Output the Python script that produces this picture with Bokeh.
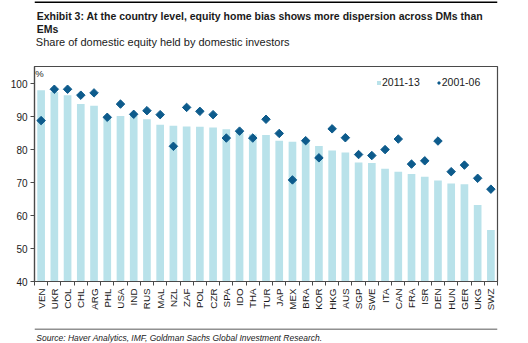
import math
from bokeh.plotting import figure
from bokeh.layouts import column
from bokeh.models import (ColumnDataSource, FixedTicker, Label, Span,
                          Range1d, Legend, LegendItem)
from bokeh.embed import file_html
from bokeh.resources import INLINE

countries = ["VEN", "UKR", "COL", "CHL", "ARG", "PHL", "USA", "IND", "RUS", "MAL",
             "NZL", "ZAF", "POL", "CZR", "SPA", "IDO", "THA", "TUR", "JAP", "MEX",
             "BRA", "KOR", "HKG", "AUS", "SGP", "SWE", "ITA", "CAN", "FRA", "ISR",
             "DEN", "HUN", "GER", "UKG", "SWZ"]
share_2011_13 = [98.0, 97.5, 96.5, 93.8, 93.3, 89.5, 90.2, 90.2, 89.2, 87.5,
                 87.2, 87.0, 86.9, 86.7, 86.2, 85.2, 84.6, 84.4, 82.7, 82.4,
                 82.6, 81.1, 79.7, 79.1, 76.1, 75.9, 74.2, 73.3, 72.6, 71.8,
                 70.6, 69.7, 69.5, 63.2, 55.6]
share_2001_06 = [88.8, 98.3, 98.3, 96.5, 97.2, 89.8, 93.8, 90.7, 91.8, 90.6,
                 81.0, 92.8, 91.6, 90.6, 83.5, 85.6, 83.5, 89.2, 84.9, 70.8,
                 82.7, 77.5, 86.3, 83.6, 78.5, 78.2, 80.0, 83.2, 75.6, 76.6,
                 82.6, 73.3, 75.3, 71.3, 68.0]
y_ticks = [40, 50, 60, 70, 80, 90, 100]
series_names = ["2011-13", "2001-06"]
title_lines = ["Exhibit 3: At the country level, equity home bias shows more dispersion across DMs than",
               "EMs"]
subtitle = "Share of domestic equity held by domestic investors"
source_note = "Source: Haver Analytics, IMF, Goldman Sachs Global Investment Research."

W = 528
HEAD_H, MAIN_H, FOOT_H = 62, 265, 16
FONT = "Liberation Sans"
TXT = "#1a1a1a"
AX = "#4a4a4a"
B = 1  # thin border of the text strips


def strip_fig(y0, h):
    # data y == page y inside the strip's frame
    f = figure(width=W, height=h, output_backend="svg", toolbar_location=None,
               x_range=Range1d(B, W - B), y_range=Range1d(y0 + h - B, y0 + B),
               x_axis_type=None, y_axis_type=None, min_border=B,
               min_border_top=B, min_border_left=B, min_border_right=B,
               min_border_bottom=B)
    f.outline_line_color = None
    f.background_fill_color = "white"
    f.border_fill_color = "white"
    return f


def text(f, s, x, y, size, style="normal"):
    f.add_layout(Label(x=x, y=y, text=s, text_font=FONT, text_font_size=size,
                       text_color=TXT, text_font_style=style,
                       text_baseline="alphabetic"))


# ---- header
head = strip_fig(0, HEAD_H)
head.add_layout(Span(location=1.5, dimension="width", line_color="black", line_width=2))
text(head, title_lines[0], 3.5, 15, "10.5px", "bold")
text(head, title_lines[1], 3.5, 28.7, "10.5px", "bold")
text(head, subtitle, 2.5, 41.3, "11px")

# ---- main chart
idx = list(range(len(countries)))
src = ColumnDataSource(dict(x=idx, c=countries, a=share_2011_13, b=share_2001_06))

p = figure(width=W, height=MAIN_H, output_backend="svg", toolbar_location=None,
           x_range=Range1d(-0.5, len(countries) - 0.5), y_range=Range1d(40, 105.2),
           min_border_left=34, min_border_right=31, min_border_top=4,
           min_border_bottom=46)
p.background_fill_color = "white"
p.border_fill_color = "white"
p.outline_line_color = AX
p.outline_line_width = 1.2
p.xgrid.visible = False
p.ygrid.visible = False

bars = p.vbar(x="x", top="a", bottom=40, width=0.58, source=src,
              fill_color="#b9e2ea", line_color=None)
pts = p.scatter(x="x", y="b", source=src, marker="square", angle=math.pi / 4, size=6,
                fill_color="#0d5b8c", line_color="#0d5b8c")

xa = p.xaxis[0]
xa.ticker = FixedTicker(ticks=idx, minor_ticks=[i - 0.5 for i in range(len(countries) + 1)])
xa.major_label_overrides = {i: c for i, c in enumerate(countries)}
xa.major_label_orientation = math.pi / 2
xa.major_tick_out = 0
xa.major_tick_in = 0
xa.minor_tick_out = 4
xa.minor_tick_in = 0
xa.minor_tick_line_color = AX
xa.axis_line_color = AX
xa.axis_line_width = 1.2
xa.major_label_text_font = FONT
xa.major_label_text_font_size = "9.8px"
xa.major_label_text_color = TXT
xa.major_label_standoff = 3

ya = p.yaxis[0]
ya.ticker = FixedTicker(ticks=y_ticks)
ya.major_tick_out = 4
ya.major_tick_in = 0
ya.minor_tick_out = 0
ya.minor_tick_in = 0
ya.axis_line_color = AX
ya.axis_line_width = 1.2
ya.major_tick_line_color = AX
ya.major_label_text_font = FONT
ya.major_label_text_font_size = "10px"
ya.major_label_text_color = TXT
ya.major_label_standoff = 3

legend = Legend(items=[LegendItem(label=series_names[0], renderers=[bars]),
                       LegendItem(label=series_names[1], renderers=[pts])],
                location=(342, 193), orientation="horizontal",
                border_line_color=None, background_fill_alpha=0,
                label_text_font=FONT, label_text_font_size="10.5px",
                label_text_color=TXT, glyph_width=5, glyph_height=5,
                spacing=16, margin=0, padding=0, label_standoff=1,
                label_height=12)
p.add_layout(legend, "center")

p.add_layout(Label(x=-0.45, y=104.8, text="%", text_font=FONT, text_font_size="9.5px",
                   text_color=TXT, text_baseline="top"))

# ---- footer
y_foot = HEAD_H + MAIN_H
foot = strip_fig(y_foot, FOOT_H)
foot.add_layout(Span(location=y_foot + 1.5, dimension="width", line_color="#222222",
                     line_width=1))
text(foot, source_note, 3, 337, "8.5px", "italic")

page = column(head, p, foot, spacing=0)
open("out.html", "w").write(file_html(page, INLINE))
